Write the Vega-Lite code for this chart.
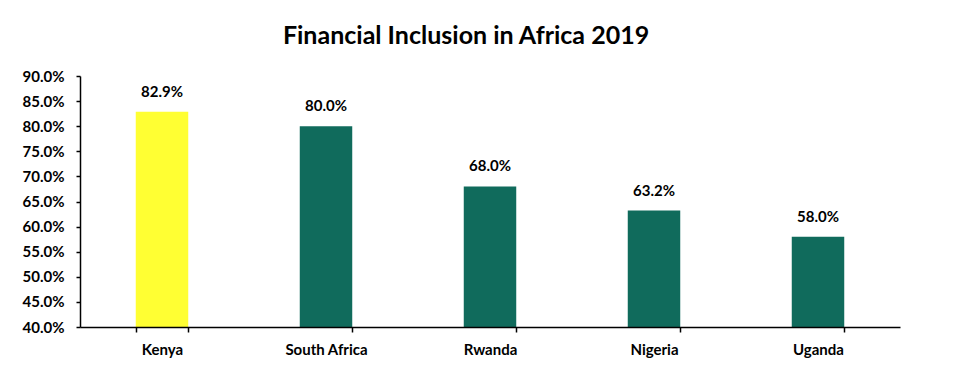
{
  "$schema": "https://vega.github.io/schema/vega-lite/v6.json",
  "autosize": "none",
  "width": 820,
  "height": 251,
  "padding": {"left": 80, "top": 76, "right": 58, "bottom": 61},
  "background": "white",
  "title": {
    "text": "Financial Inclusion in Africa 2019",
    "font": "Lato",
    "fontSize": 25,
    "fontWeight": "bold",
    "color": "black",
    "anchor": "middle",
    "dx": -24,
    "offset": 20
  },
  "data": {
    "values": [
      {"country": "Kenya", "value": 0.829, "highlight": "yes"},
      {"country": "South Africa", "value": 0.80, "highlight": "no"},
      {"country": "Rwanda", "value": 0.68, "highlight": "no"},
      {"country": "Nigeria", "value": 0.632, "highlight": "no"},
      {"country": "Uganda", "value": 0.58, "highlight": "no"}
    ]
  },
  "encoding": {
    "x": {
      "field": "country", "type": "nominal", "sort": null,
      "scale": {"paddingInner": 0.68, "paddingOuter": 0.34},
      "axis": {
        "title": null, "labelAngle": 0, "labelFont": "Lato", "labelFontSize": 15,
        "labelFontWeight": "bold", "labelColor": "black", "labelPadding": 10,
        "domainColor": "black", "domainWidth": 1.5, "tickColor": "black",
        "tickWidth": 1.5, "tickSize": 5, "tickBand": "extent", "grid": false, "zindex": 1
      }
    },
    "y": {
      "field": "value", "type": "quantitative",
      "scale": {"domain": [0.4, 0.9], "zero": false, "nice": false},
      "axis": {
        "title": null, "format": ".1%", "values": [0.4,0.45,0.5,0.55,0.6,0.65,0.7,0.75,0.8,0.85,0.9],
        "labelFont": "Lato", "labelFontSize": 15, "labelFontWeight": "bold", "labelColor": "black",
        "labelPadding": 12, "domainColor": "black", "domainWidth": 1.5, "tickColor": "black",
        "tickWidth": 1.5, "tickSize": 4, "grid": false, "zindex": 1
      }
    }
  },
  "layer": [
    {
      "mark": {"type": "bar", "clip": true},
      "encoding": {
        "color": {
          "field": "highlight", "type": "nominal",
          "scale": {"domain": ["yes", "no"], "range": ["#FFFF33", "#106B5C"]},
          "legend": null
        }
      }
    },
    {
      "mark": {"type": "text", "baseline": "bottom", "dy": -12, "font": "Lato", "fontSize": 15, "fontWeight": "bold", "color": "black"},
      "encoding": {
        "text": {"field": "value", "type": "quantitative", "format": ".1%"}
      }
    }
  ],
  "config": {"view": {"stroke": null}}
}
